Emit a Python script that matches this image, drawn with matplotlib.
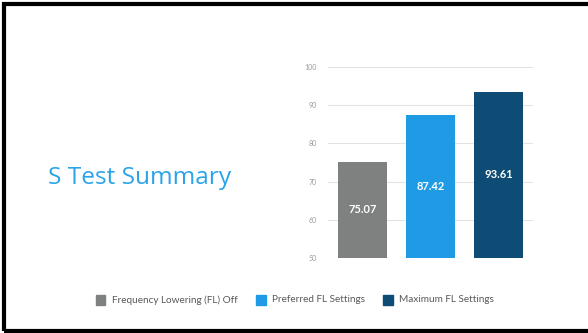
import matplotlib
matplotlib.use("Agg")
import matplotlib.pyplot as plt
from matplotlib.patches import Rectangle

categories = ["Frequency Lowering (FL) Off", "Preferred FL Settings", "Maximum FL Settings"]
values = [75.07, 87.42, 93.61]
colors = ["#7f8180", "#1f9be6", "#0f4c75"]
yticks = [50, 60, 70, 80, 90, 100]

plt.rcParams["font.family"] = ["Lato", "DejaVu Sans"]

fig = plt.figure(figsize=(5.88, 3.33), dpi=100)

# slide frame
fig.patches.append(Rectangle((4 / 588, 1 - 331 / 333), 1.2, 327.5 / 333,
                             transform=fig.transFigure, fill=False,
                             edgecolor="black", linewidth=3, zorder=0))

fig.text(48 / 588, 1 - 178 / 333, "S Test Summary", color="#2aa3e9",
         fontsize=17.6, va="center", ha="left", family=["Open Sans", "DejaVu Sans"])

ax = fig.add_axes([328 / 588, 1 - 257.7 / 333, 205 / 588, (257.7 - 67.3) / 333])
x = list(range(len(values)))
ax.bar(x, [v - 50 for v in values], bottom=50, width=0.72, color=colors, zorder=3)
for xi, v in zip(x, values):
    ax.text(xi, (50 + v) / 2, f"{v:.2f}", ha="center", va="center",
            color="white", fontsize=8, fontweight="bold", zorder=4)

ax.set_ylim(50, 100)
ax.set_xlim(-0.51, 2.5)
ax.set_yticks(yticks)
ax.set_yticklabels([str(t) for t in yticks], fontsize=5, color="#9a9a9a")
ax.set_xticks([])
ax.yaxis.grid(True, color="#e3e3e3", linewidth=0.8, zorder=0)
ax.tick_params(axis="y", length=0, pad=8)
for s in ax.spines.values():
    s.set_visible(False)

# legend
leg_x = [96, 256, 383]
for lx, lab, c in zip(leg_x, categories, colors):
    fig.patches.append(Rectangle((lx / 588, 1 - 304.5 / 333), 9.5 / 588, 9.5 / 333,
                                 transform=fig.transFigure, color=c))
    fig.text((lx + 16) / 588, 1 - 300 / 333, lab, fontsize=7.2, color="#595959",
             va="center", ha="left")

fig.savefig("out.png", dpi=100)
